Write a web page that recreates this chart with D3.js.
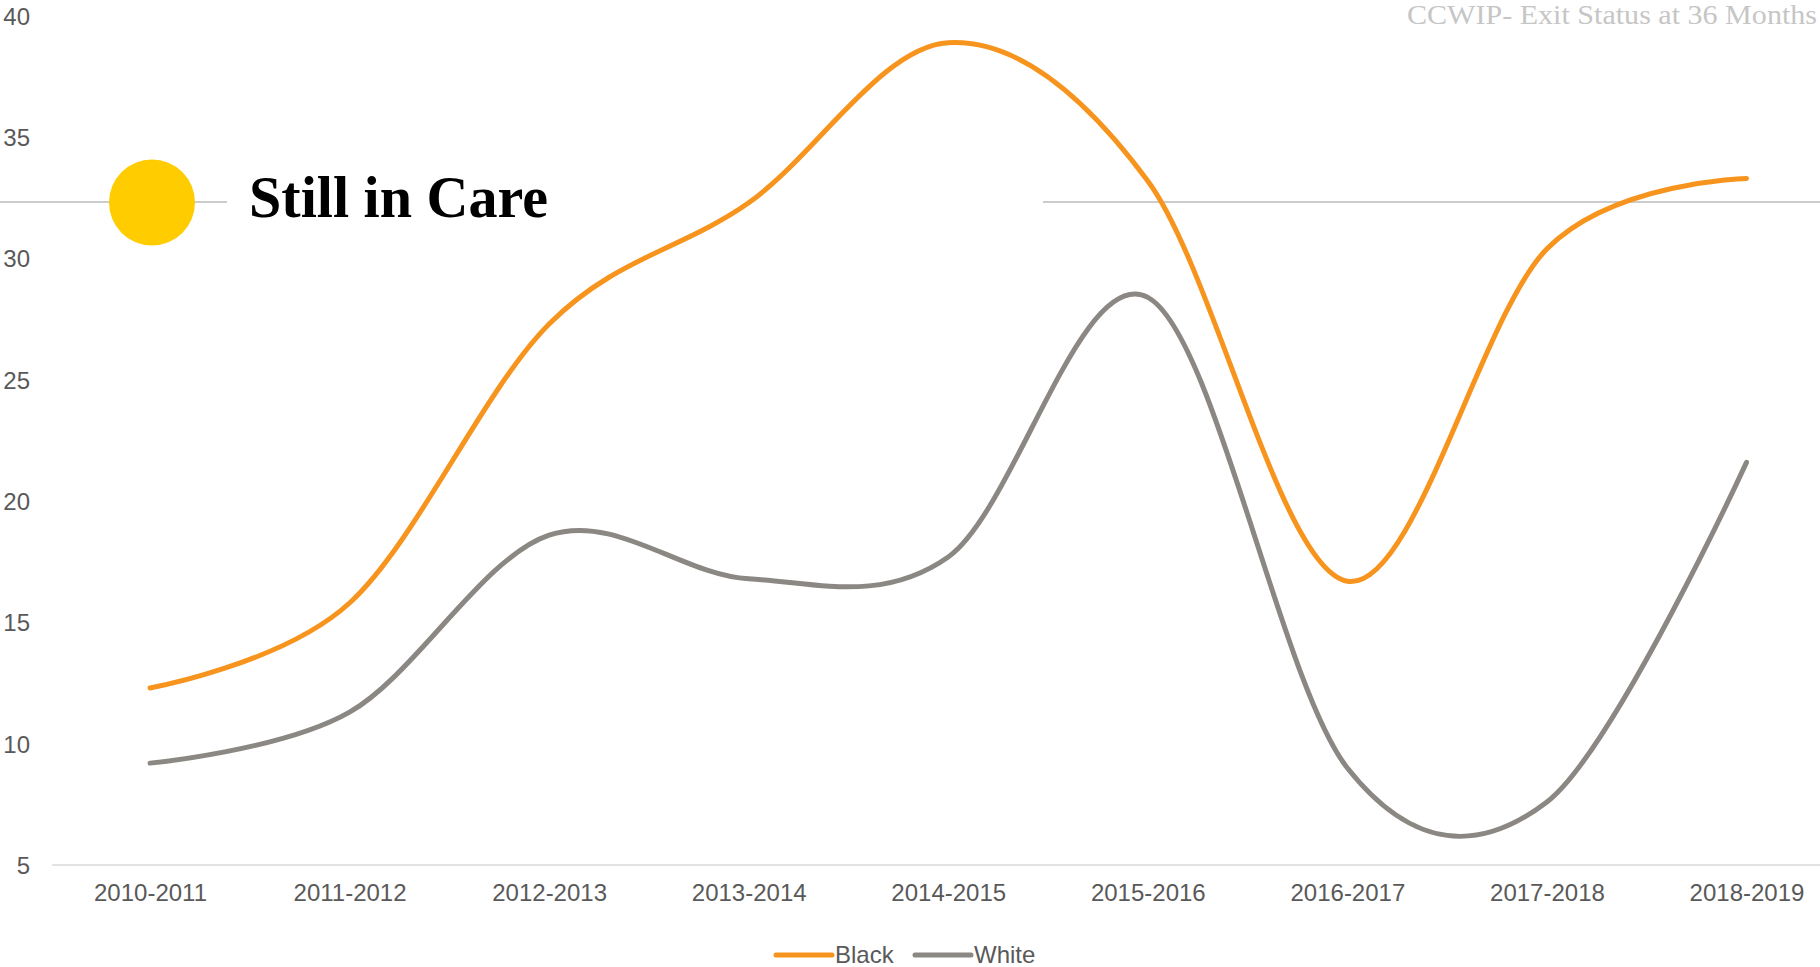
<!DOCTYPE html>
<html>
<head>
<meta charset="utf-8">
<script src="https://cdn.jsdelivr.net/npm/d3@7"></script>
<style>
  html, body { margin: 0; padding: 0; background: #ffffff; }
  svg { display: block; }
</style>
</head>
<body>
<script>
const categories = ["2010-2011","2011-2012","2012-2013","2013-2014","2014-2015","2015-2016","2016-2017","2017-2018","2018-2019"];
const blackValues = [12.3, 15.8, 27.3, 32.3, 38.9, 33.2, 16.7, 30.4, 33.3];
const whiteValues = [9.2, 11.3, 18.6, 16.8, 17.7, 28.4, 9.0, 7.6, 21.6];
const yTicks = [5, 10, 15, 20, 25, 30, 35, 40];
const seriesNames = ["Black", "White"];
const chartTitle = "CCWIP- Exit Status at 36 Months";
const headline = "Still in Care";

const W = 1820, H = 967;
const colors = { Black: "#F7941E", White: "#8B8782" };

const svg = d3.select("body").append("svg").attr("width", W).attr("height", H);

const x = d3.scalePoint().domain(categories).range([150, 1746.5]);
const y = d3.scaleLinear().domain([5, 40]).range([865, 16]);

// decorative divider line
svg.append("line").attr("x1", 0).attr("x2", 227).attr("y1", 202).attr("y2", 202)
  .attr("stroke", "#cccccc").attr("stroke-width", 2);
svg.append("line").attr("x1", 1043).attr("x2", W).attr("y1", 202).attr("y2", 202)
  .attr("stroke", "#cccccc").attr("stroke-width", 2);

// baseline axis line
svg.append("line").attr("x1", 52).attr("x2", W).attr("y1", y(5)).attr("y2", y(5))
  .attr("stroke", "#d9d9d9").attr("stroke-width", 1.5);

// y axis labels
const yAxis = d3.axisLeft(y).tickValues(yTicks).tickSize(0).tickPadding(0);
const gy = svg.append("g").attr("transform", "translate(30,0)").call(yAxis);
gy.select(".domain").remove();
gy.selectAll("text").attr("font-family", "'Liberation Sans', Arial, sans-serif")
  .attr("font-size", 24).attr("fill", "#595959").attr("dy", "0.35em");

// x axis labels
const xAxis = d3.axisBottom(x).tickSize(0).tickPadding(0);
const gx = svg.append("g").attr("transform", "translate(0,893)").call(xAxis);
gx.select(".domain").remove();
gx.selectAll("text").attr("font-family", "'Liberation Sans', Arial, sans-serif")
  .attr("font-size", 24).attr("fill", "#595959").attr("dy", "0.35em");

// lines
const line = d3.line().x((d, i) => x(categories[i])).y(d => y(d)).curve(d3.curveCardinal.tension(0));
const data = { Black: blackValues, White: whiteValues };
seriesNames.slice().reverse().forEach(name => {
  svg.append("path").datum(data[name]).attr("d", line)
    .attr("fill", "none").attr("stroke", colors[name]).attr("stroke-width", 5)
    .attr("stroke-linecap", "round").attr("stroke-linejoin", "round");
});

// headline
svg.append("circle").attr("cx", 152).attr("cy", 202.5).attr("r", 43).attr("fill", "#FFCC00");
svg.append("text").attr("x", 249).attr("y", 217).text(headline)
  .attr("font-family", "'Liberation Serif', 'Times New Roman', serif").attr("font-weight", "bold")
  .attr("font-size", 59).attr("fill", "#000000")
  .attr("textLength", 299).attr("lengthAdjust", "spacingAndGlyphs");

// top-right title
svg.append("text").attr("x", 1817).attr("y", 24).attr("text-anchor", "end").text(chartTitle)
  .attr("font-family", "'Liberation Serif', 'Times New Roman', serif")
  .attr("font-size", 27).attr("fill", "#c6c6c6")
  .attr("textLength", 410).attr("lengthAdjust", "spacingAndGlyphs");

// legend
const legendPos = [{ name: "Black", x1: 776, x2: 832, tx: 835 }, { name: "White", x1: 915, x2: 971, tx: 974 }];
legendPos.forEach(l => {
  svg.append("line").attr("x1", l.x1).attr("x2", l.x2).attr("y1", 955).attr("y2", 955)
    .attr("stroke", colors[l.name]).attr("stroke-width", 5).attr("stroke-linecap", "round");
  svg.append("text").attr("x", l.tx).attr("y", 955).attr("dy", "0.35em").text(l.name)
    .attr("font-family", "'Liberation Sans', Arial, sans-serif").attr("font-size", 24).attr("fill", "#595959");
});
</script>
</body>
</html>
